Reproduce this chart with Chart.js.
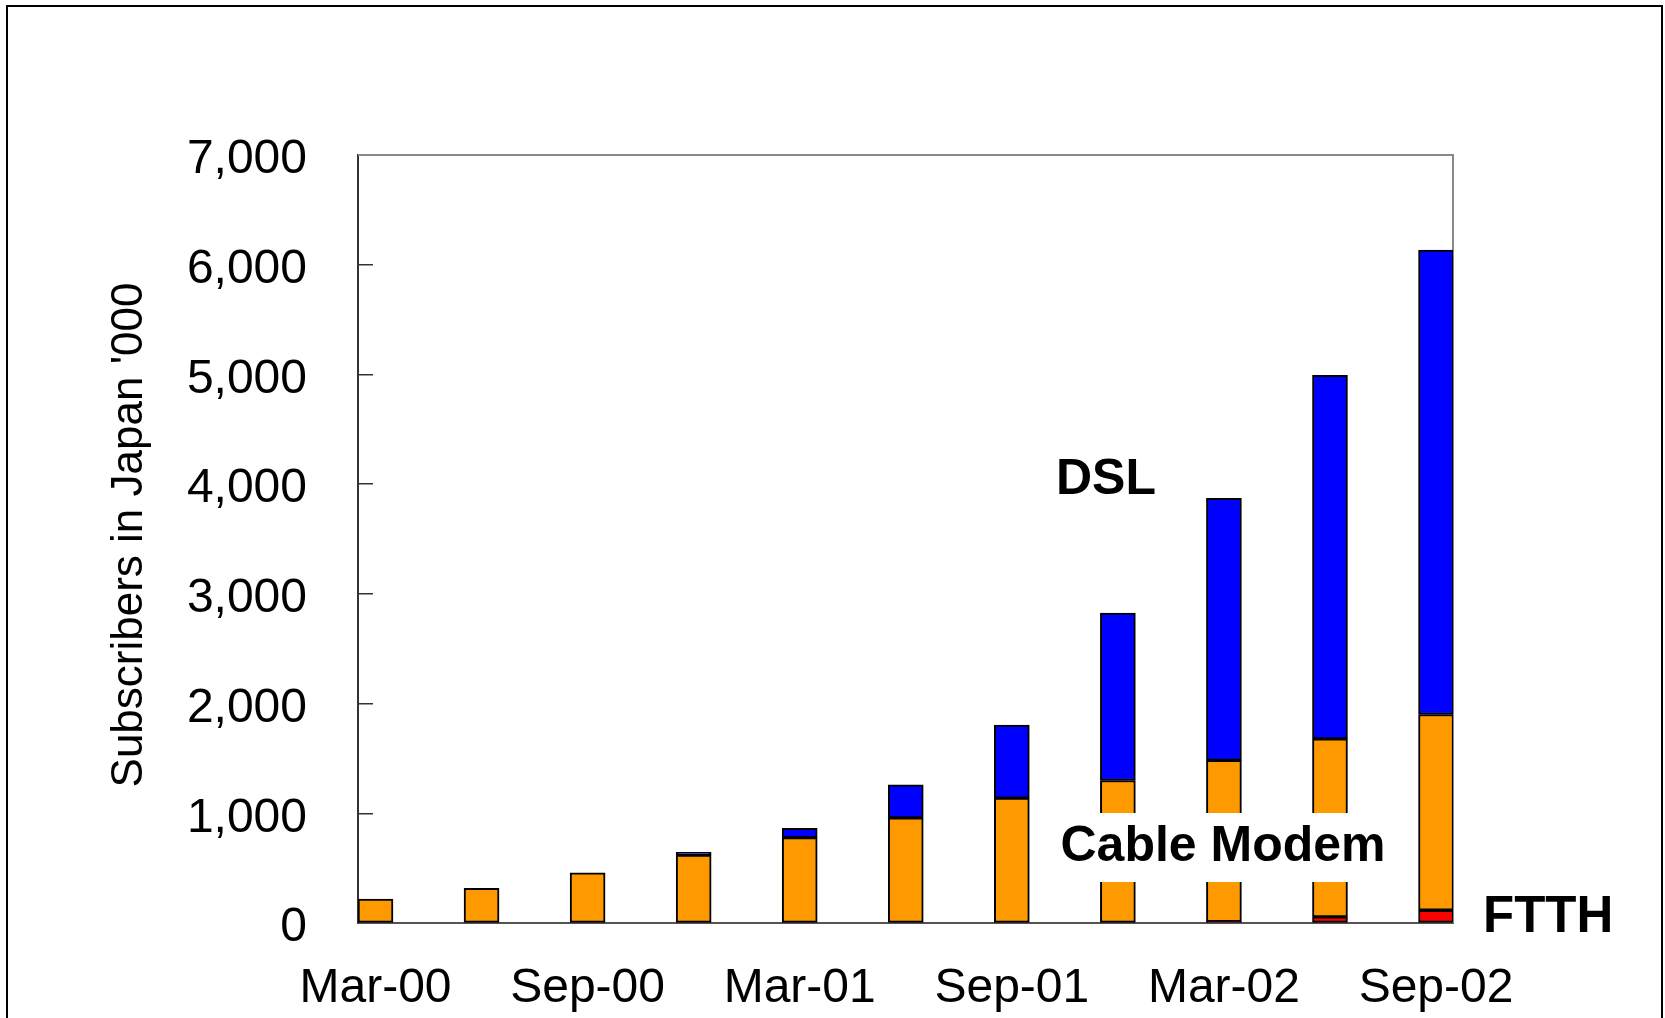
<!DOCTYPE html>
<html>
<head>
<meta charset="utf-8">
<script src="https://cdn.jsdelivr.net/npm/chart.js@4.4.1/dist/chart.umd.min.js"></script>
<style>
    html, body { margin: 0; padding: 0; background: #fff; overflow: hidden; }
    #wrap { position: absolute; left: 0; top: 0; width: 1665px; height: 1018px; }
    #frame { position: absolute; left: 6px; top: 5px; width: 1653px; height: 1100px; border: 2px solid #000; }
</style>
</head>
<body>
<div id="frame"></div>
<div id="wrap"><canvas id="bbChart"></canvas></div>
<script>
// quarterly subscribers in Japan, '000
const periods = ['Mar-00', 'Jun-00', 'Sep-00', 'Dec-00', 'Mar-01', 'Jun-01', 'Sep-01', 'Dec-01', 'Mar-02', 'Jun-02', 'Sep-02'];
const ftth  = [0, 0, 0, 0, 0, 0, 0, 0, 15, 57, 118];
const cable = [220, 318, 460, 620, 780, 960, 1140, 1300, 1468, 1623, 1784];
const dsl   = [0, 0, 0, 25, 85, 300, 665, 1525, 2388, 3313, 4232];
const labelIdx = [0, 2, 4, 6, 8, 10];
const yTicks = [0, 1000, 2000, 3000, 4000, 5000, 6000, 7000];

const FONT = "'Liberation Sans', Arial, sans-serif";

function toPoints(values) {
    return values.map((v, i) => ({ x: i, y: v }));
}

function barSet(label, values, color) {
    return {
        label: label,
        data: toPoints(values),
        backgroundColor: color,
        borderColor: '#000',
        borderWidth: 2,
        borderSkipped: false,
        barThickness: 35
    };
}

// gray frame on top/right + text labels drawn onto the chart
const extras = {
    id: 'extras',
    beforeDatasetsDraw(chart) {
        const { ctx, chartArea: a } = chart;
        ctx.save();
        ctx.strokeStyle = '#888';
        ctx.lineWidth = 2;
        ctx.beginPath();
        ctx.moveTo(a.left, a.top);
        ctx.lineTo(a.right, a.top);
        ctx.lineTo(a.right, a.bottom);
        ctx.stroke();
        ctx.restore();
    },
    afterDatasetsDraw(chart) {
        const ctx = chart.ctx;
        ctx.save();
        ctx.fillStyle = '#000';
        ctx.textBaseline = 'middle';

        ctx.font = `bold 50px ${FONT}`;
        ctx.textAlign = 'left';
        ctx.fillText('DSL', 1056, 480);

        // white box behind the cable label
        ctx.fillStyle = '#fff';
        ctx.fillRect(1044, 813, 358, 69);
        ctx.fillStyle = '#000';
        ctx.font = `bold 50px ${FONT}`;
        ctx.textAlign = 'center';
        ctx.fillText('Cable Modem', 1223, 847);

        ctx.font = `bold 51px ${FONT}`;
        ctx.textAlign = 'left';
        ctx.fillText('FTTH', 1483, 918);

        // y axis title
        ctx.font = `44px ${FONT}`;
        ctx.translate(130, 535);
        ctx.rotate(-Math.PI / 2);
        ctx.textAlign = 'center';
        ctx.fillText("Subscribers in Japan '000", 0, 0);
        ctx.restore();
    }
};

const ctx = document.getElementById('bbChart').getContext('2d');
new Chart(ctx, {
    type: 'bar',
    data: {
        datasets: [
            barSet('FTTH', ftth, '#FF0000'),
            barSet('Cable Modem', cable, '#FF9900'),
            barSet('DSL', dsl, '#0000FF')
        ]
    },
    options: {
        responsive: true,
        maintainAspectRatio: false,
        animation: false,
        layout: { padding: { top: 155, right: 212, bottom: 0, left: 0 } },
        plugins: {
            legend: { display: false },
            tooltip: { enabled: false }
        },
        scales: {
            x: {
                type: 'linear',
                stacked: true,
                offset: false,
                min: -0.165,
                max: 10.16,
                afterBuildTicks: (scale) => {
                    scale.ticks = labelIdx.map(v => ({ value: v }));
                },
                afterFit: (scale) => { scale.height = 93; },
                grid: { display: false },
                border: { display: true, color: '#555', width: 2 },
                ticks: {
                    autoSkip: false,
                    maxRotation: 0,
                    padding: 29,
                    color: '#000',
                    font: { family: FONT, size: 48 },
                    callback: (v) => periods[v]
                }
            },
            y: {
                stacked: true,
                min: 0,
                max: 7000,
                afterBuildTicks: (scale) => {
                    scale.ticks = yTicks.map(v => ({ value: v }));
                },
                afterFit: (scale) => { scale.width = 358; },
                grid: {
                    display: true,
                    drawOnChartArea: false,
                    drawTicks: true,
                    tickLength: -15,
                    color: '#333',
                    lineWidth: 1.5
                },
                border: { display: true, color: '#333', width: 2 },
                ticks: {
                    padding: 66,
                    labelOffset: 5,
                    color: '#000',
                    font: { family: FONT, size: 48 },
                    callback: (v) => v.toLocaleString('en-US')
                }
            }
        }
    },
    plugins: [extras]
});
</script>
</body>
</html>
